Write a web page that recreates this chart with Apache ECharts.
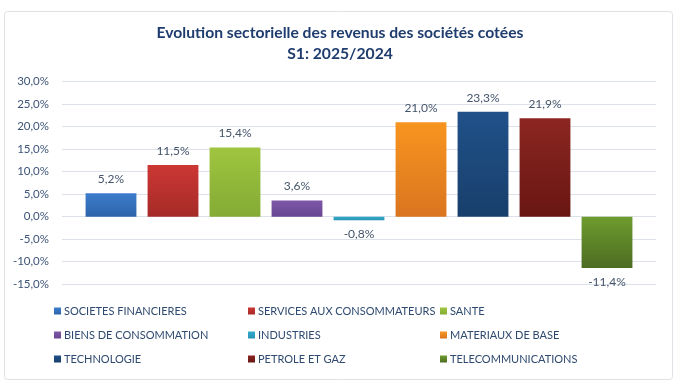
<!DOCTYPE html>
<html><head><meta charset="utf-8">
<script src="https://cdn.jsdelivr.net/npm/echarts@6/dist/echarts.min.js"></script>
<style>html,body{margin:0;padding:0;background:#fff}#c{width:680px;height:386px}</style>
</head><body><div id="c"></div>
<script>
const categories = ['SOCIETES FINANCIERES','SERVICES AUX CONSOMMATEURS','SANTE','BIENS DE CONSOMMATION','INDUSTRIES','MATERIAUX DE BASE','TECHNOLOGIE','PETROLE ET GAZ','TELECOMMUNICATIONS'];
const values = [5.2, 11.5, 15.4, 3.6, -0.8, 21.0, 23.3, 21.9, -11.4];
const yTicks = [-15, -10, -5, 0, 5, 10, 15, 20, 25, 30];
const colorsTop = ['#3d7dcc','#cc3733','#9fc540','#7d58a8','#34aacc','#f8951f','#205189','#8c2621','#6d9c2f'];
const colorsBottom = ['#2d64aa','#a52b28','#84ab34','#684694','#2a93b3','#da7520','#183f6b','#681613','#4d6c21'];

const fmt = v => v.toFixed(1).replace('.', ',') + '%';
const FONT = 'Lato';

const series = categories.map((name, i) => {
  const data = categories.map((_, j) => j === i ? values[i] : '-');
  return {
    name, type: 'bar', xAxisIndex: 1, yAxisIndex: 1,
    data,
    barGap: '-100%', barCategoryGap: '18%',
    itemStyle: { color: { type: 'linear', x: 0, y: 0, x2: 0, y2: 1, colorStops: [
      { offset: 0, color: colorsTop[i] },
      { offset: 1, color: colorsBottom[i] } ] } },
    label: { show: true, position: values[i] >= 0 ? 'top' : 'bottom', distance: 8,
      formatter: p => fmt(p.value), color: '#44546a', fontSize: 12, fontFamily: FONT }
  };
});

const legendCols = [[0,3,6],[1,4,7],[2,5,8]];
const legendLeft = [54, 248, 440];
const legends = legendCols.map((col, k) => ({
  orient: 'vertical', left: legendLeft[k], top: 304,
  data: col.map(i => categories[i]),
  itemWidth: 7, itemHeight: 7, itemGap: 10, icon: 'rect',
  textStyle: { color: '#2f4a70', fontSize: 11, fontFamily: FONT, lineHeight: 14, padding: [0,0,0,-2] },
  selectedMode: false, padding: 0
}));

const chart = echarts.init(document.getElementById('c'), null, { renderer: 'canvas' });
chart.setOption({
  backgroundColor: '#fff',
  animation: false,
  graphic: [{ type: 'rect', shape: { x: 4.5, y: 11.5, width: 668, height: 368, r: 3 },
    style: { fill: 'none', stroke: '#dfe1e6', lineWidth: 1 }, z: -1 }],
  title: { text: 'Evolution sectorielle des revenus des sociétés cotées\nS1: 2025/2024', left: 'center', top: 17,
    textStyle: { color: '#1f3c6e', fontSize: 15.7, fontWeight: 'bold', fontFamily: FONT, lineHeight: 21 } },
  legend: legends,
  grid: [
    { left: 62, right: 24, top: 81.7, bottom: 101.8 },
    { left: 80, right: 42, top: 81.7, bottom: 101.8 }
  ],
  xAxis: [
    { type: 'category', gridIndex: 0, data: categories, show: false },
    { type: 'category', gridIndex: 1, data: categories, show: false }
  ],
  yAxis: [
    { type: 'value', gridIndex: 0, min: yTicks[0], max: yTicks[yTicks.length-1], interval: 5,
      axisLine: { show: false }, axisTick: { show: false },
      splitLine: { lineStyle: { color: '#dde1ea', width: 1 } },
      axisLabel: { formatter: v => fmt(v), color: '#3d5478', fontSize: 11.5, fontFamily: FONT, margin: 13 } },
    { type: 'value', gridIndex: 1, min: yTicks[0], max: yTicks[yTicks.length-1], interval: 5, show: false,
      splitLine: { show: false } }
  ],
  series
});
</script></body></html>
